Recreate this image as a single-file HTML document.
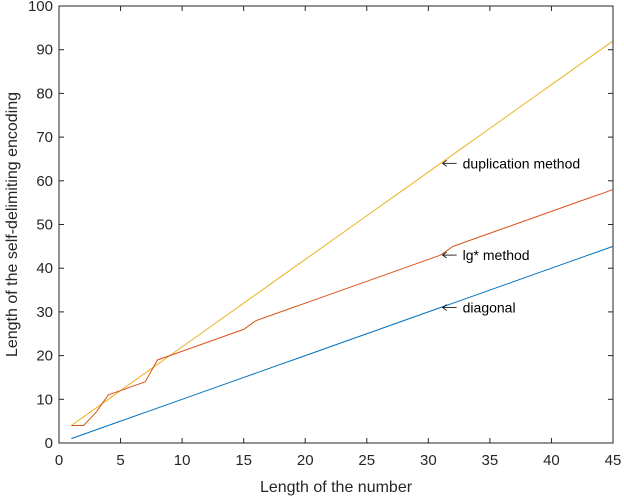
<!DOCTYPE html>
<html><head><meta charset="utf-8"><style>body{margin:0;background:#fff}svg{display:block;font-family:"Liberation Sans",Arial,sans-serif}</style></head>
<body>
<svg id="chart" width="624" height="498"></svg>
<script>
const xs=[];for(let i=1;i<=45;i++)xs.push(i);
const diagonal=[1,2,3,4,5,6,7,8,9,10,11,12,13,14,15,16,17,18,19,20,21,22,23,24,25,26,27,28,29,30,31,32,33,34,35,36,37,38,39,40,41,42,43,44,45];
const lgStar=[4,4,7,11,12,13,14,19,20,21,22,23,24,25,26,28,29,30,31,32,33,34,35,36,37,38,39,40,41,42,43,45,46,47,48,49,50,51,52,53,54,55,56,57,58];
const duplication=[4,6,8,10,12,14,16,18,20,22,24,26,28,30,32,34,36,38,40,42,44,46,48,50,52,54,56,58,60,62,64,66,68,70,72,74,76,78,80,82,84,86,88,90,92];
const xTicks=[0,5,10,15,20,25,30,35,40,45];
const yTicks=[0,10,20,30,40,50,60,70,80,90,100];
const annotations=[{t:'duplication method',x:31,y:64},{t:'lg* method',x:31,y:43},{t:'diagonal',x:31,y:31}];
const L=59,R=613,T=6,B=443;
const sx=v=>L+(v/45)*(R-L), sy=v=>B-(v/100)*(B-T);
const svg=document.getElementById('chart');const NS='http://www.w3.org/2000/svg';
function mk(tag,attrs,parent){const e=document.createElementNS(NS,tag);for(const k in attrs)e.setAttribute(k,attrs[k]);(parent||svg).appendChild(e);return e;}
function series(vals,color,name){const p=mk('polyline',{points:xs.map((x,i)=>sx(x)+','+sy(vals[i])).join(' '),fill:'none',stroke:color,'stroke-width':1});

}
series(duplication,'#EDB120','duplication-line');
series(lgStar,'#D95319','lg-star-line');
series(diagonal,'#0072BD','diagonal-line');
const box=mk('rect',{x:L,y:T,width:R-L,height:B-T,fill:'none',stroke:'#262626','stroke-width':1});


xTicks.forEach(v=>{const x=sx(v);mk('line',{x1:x,x2:x,y1:B,y2:B-5,stroke:'#262626'});mk('line',{x1:x,x2:x,y1:T,y2:T+5,stroke:'#262626'});
const t=mk('text',{x:x,y:B+22,'text-anchor':'middle','font-size':15,fill:'#262626'});t.textContent=v;

});
yTicks.forEach(v=>{const y=sy(v);mk('line',{x1:L,x2:L+5,y1:y,y2:y,stroke:'#262626'});mk('line',{x1:R,x2:R-5,y1:y,y2:y,stroke:'#262626'});
const t=mk('text',{x:L-6,y:y+5,'text-anchor':'end','font-size':15,fill:'#262626'});t.textContent=v;

});
const xt=mk('text',{x:(L+R)/2,y:492,'text-anchor':'middle','font-size':16,fill:'#262626'});xt.textContent='Length of the number';


const yt=mk('text',{x:0,y:0,'text-anchor':'middle','font-size':16,fill:'#262626',transform:'translate(17,'+((T+B)/2)+') rotate(-90)'});yt.textContent='Length of the self-delimiting encoding';


annotations.forEach(a=>{const x0=sx(a.x)+2,y0=sy(a.y);
mk('line',{x1:x0,x2:x0+14,y1:y0,y2:y0,stroke:'#000','stroke-width':0.8});
mk('polyline',{points:(x0+4)+','+(y0-3)+' '+x0+','+y0+' '+(x0+4)+','+(y0+3),fill:'none',stroke:'#000','stroke-width':0.8});
const t=mk('text',{x:x0+20,y:y0+5,'font-size':14,fill:'#000'});t.textContent=a.t;

});
</script>
</body></html>
